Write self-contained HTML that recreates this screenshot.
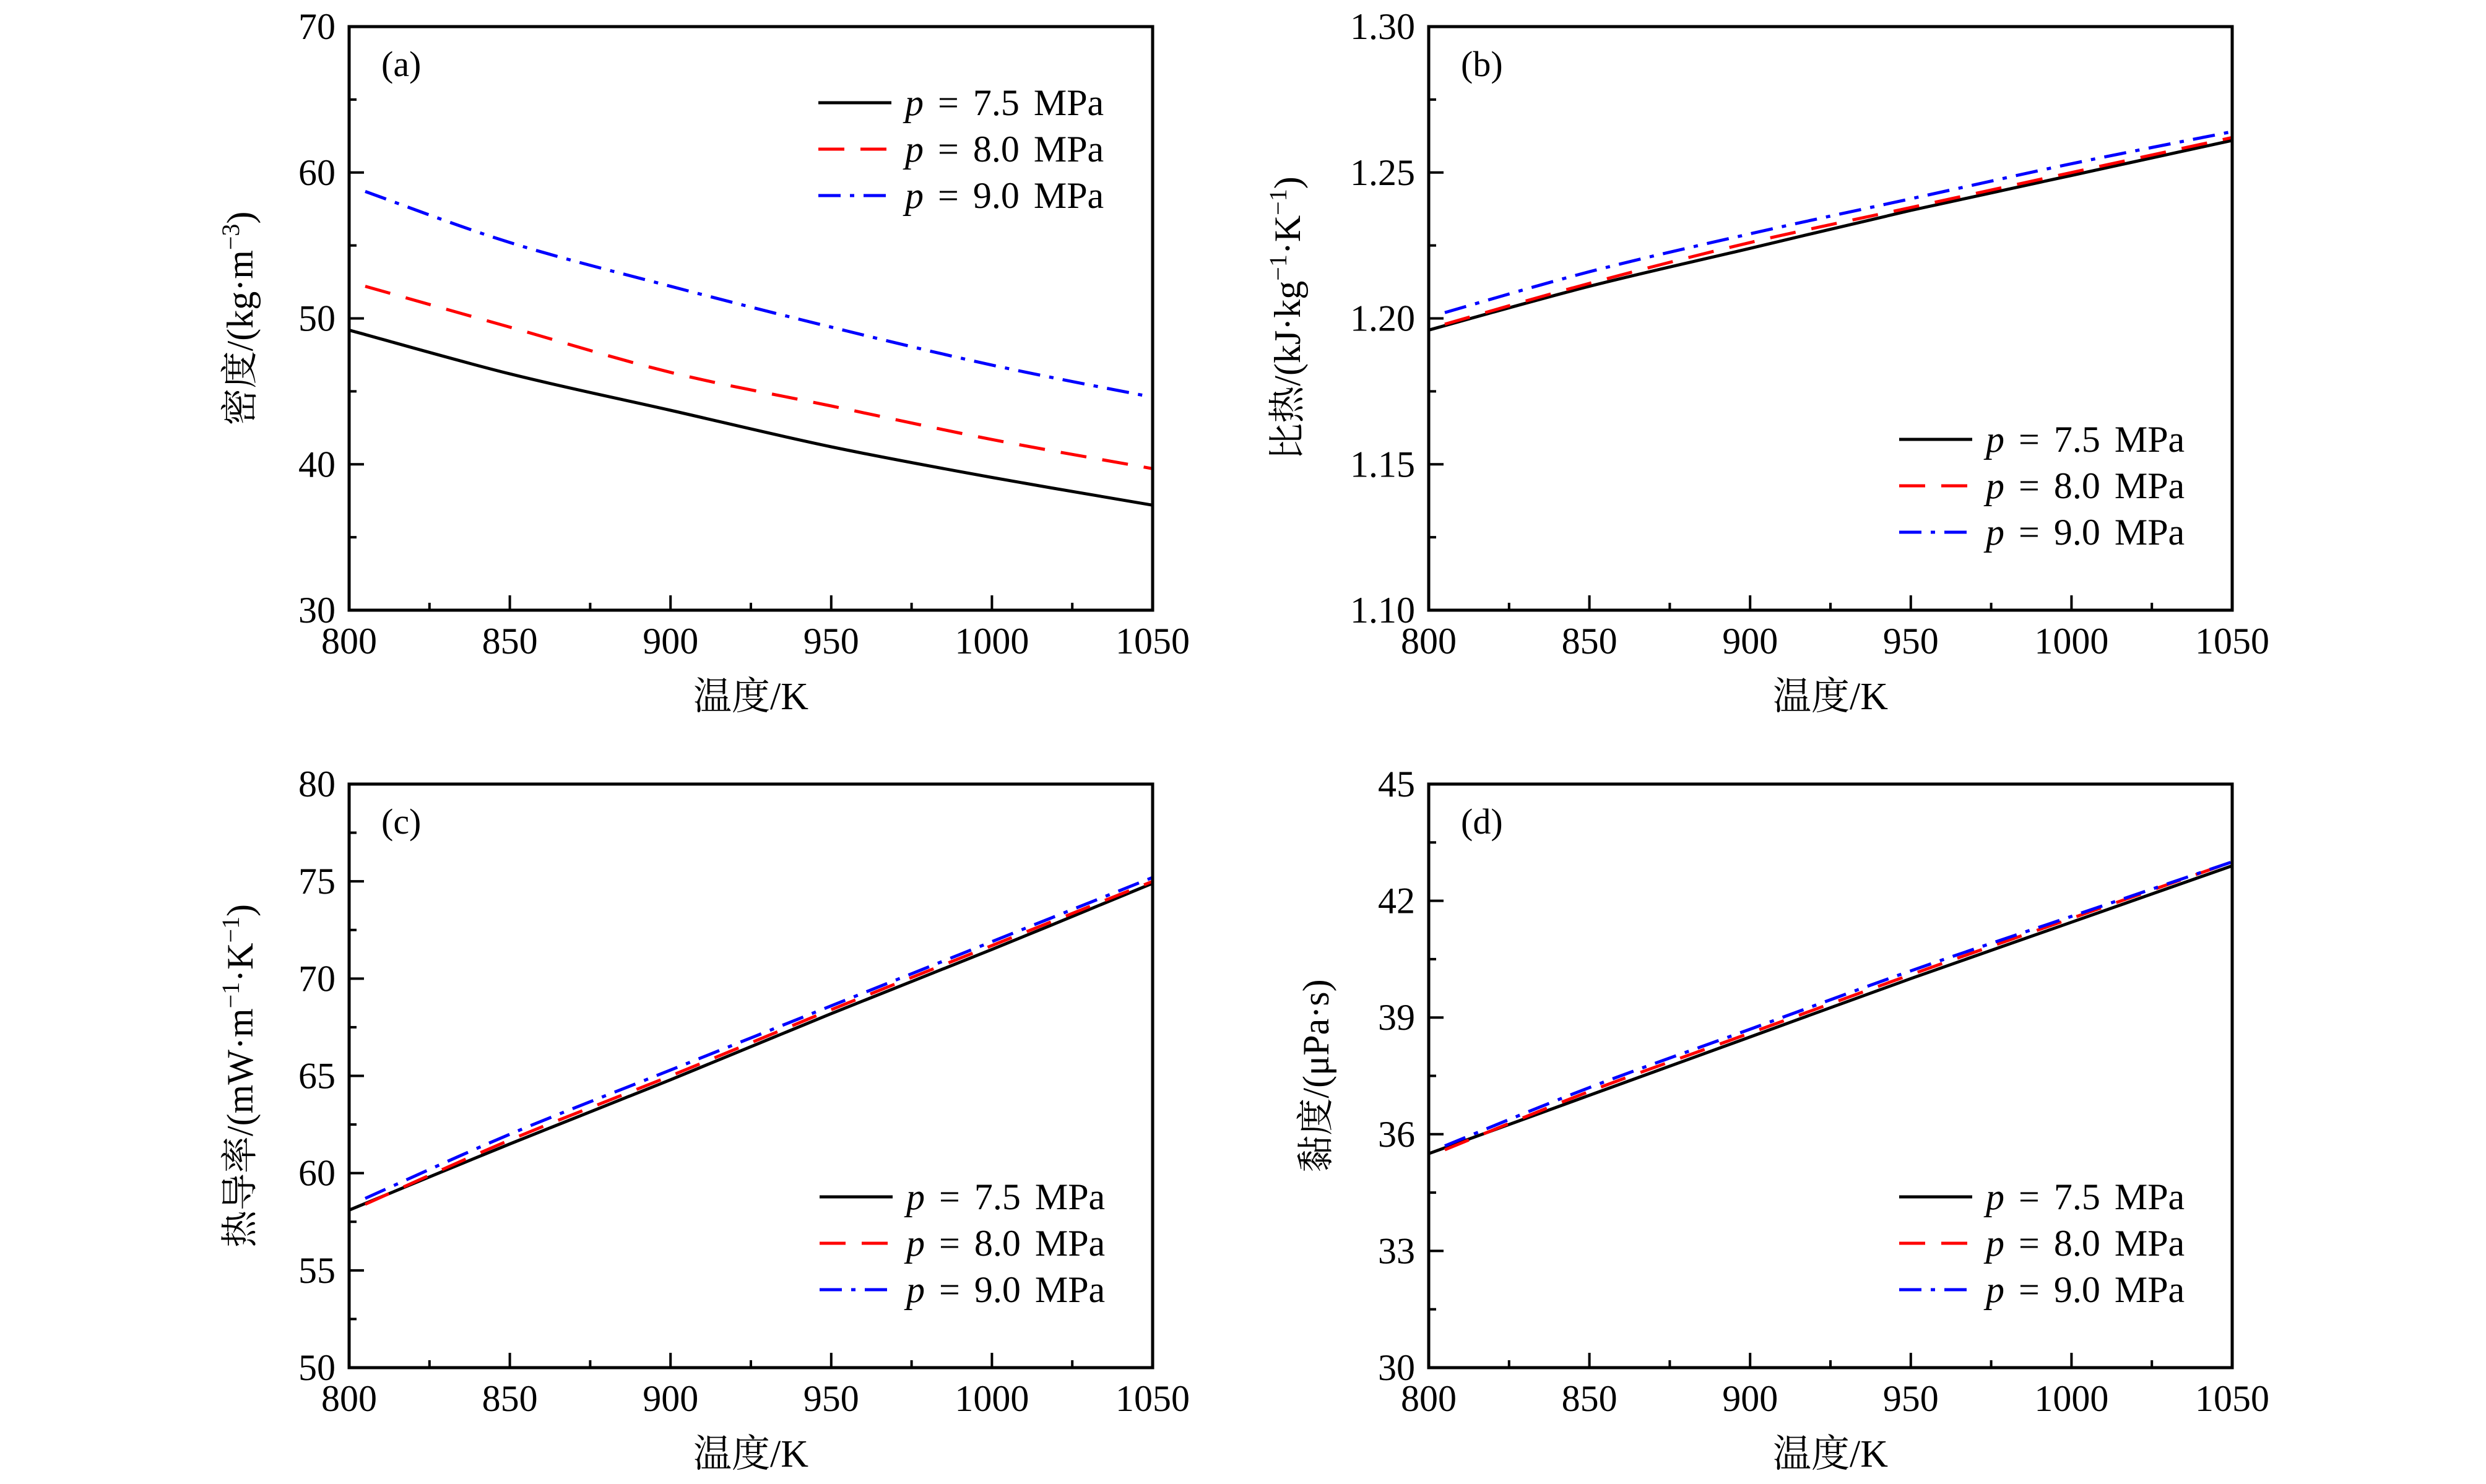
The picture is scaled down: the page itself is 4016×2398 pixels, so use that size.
<!DOCTYPE html>
<html><head><meta charset="utf-8"><style>
html,body{margin:0;padding:0;background:#fff;}
svg{display:block;font-family:"Liberation Serif","Noto Serif CJK SC","Noto Sans CJK SC",serif;}
</style></head><body>
<svg id="fig" width="4016" height="2398" viewBox="0 0 4016 2398" xmlns="http://www.w3.org/2000/svg"></svg>
<script>
const xCats = [800, 850, 900, 950, 1000, 1050];
const xCatsP = [805, 850, 900, 950, 1000, 1050];
const xTicks = [800, 850, 900, 950, 1000, 1050];
const seriesNames = ["7.5", "8.0", "9.0"];
const densBlack = [49.2, 46.2, 43.7, 41.2, 39.1, 37.2];
const densRed = [52.2, 49.4, 46.3, 44.0, 41.7, 39.7];
const densBlue = [58.7, 55.2, 52.2, 49.4, 46.8, 44.6];
const cpBlack = [1.196, 1.211, 1.224, 1.237, 1.249, 1.261];
const cpRed = [1.198, 1.212, 1.226, 1.238, 1.250, 1.262];
const cpBlue = [1.202, 1.216, 1.229, 1.241, 1.253, 1.264];
const kBlack = [58.1, 61.5, 64.8, 68.2, 71.5, 74.9];
const kRed = [58.4, 61.7, 65.0, 68.4, 71.7, 75.0];
const kBlue = [58.7, 62.0, 65.3, 68.6, 71.9, 75.2];
const muBlack = [35.5, 37.0, 38.5, 40.0, 41.45, 42.9];
const muRed = [35.6, 37.1, 38.6, 40.1, 41.55, 43.0];
const muBlue = [35.7, 37.2, 38.7, 40.2, 41.6, 43.0];
const densTicks = [30, 40, 50, 60, 70];
const cpTicks = ["1.10", "1.15", "1.20", "1.25", "1.30"];
const kTicks = [50, 55, 60, 65, 70, 75, 80];
const muTicks = [30, 33, 36, 39, 42, 45];

const NS = "http://www.w3.org/2000/svg";
const svg = document.getElementById('fig');
function mk(tag, attrs, parent) {
  const e = document.createElementNS(NS, tag);
  for (const k in attrs) e.setAttribute(k, attrs[k]);
  (parent || svg).appendChild(e);
  return e;
}
const styles = [
  {stroke: "#000", dash: ""},
  {stroke: "#f00", dash: "42 26"},
  {stroke: "#00f", dash: "36 15 7 15"}
];
function smoothPath(P) {
  let d = "M" + P[0][0].toFixed(1) + "," + P[0][1].toFixed(1);
  for (let i = 0; i < P.length - 1; i++) {
    const p0 = P[Math.max(0, i - 1)], p1 = P[i], p2 = P[i + 1], p3 = P[Math.min(P.length - 1, i + 2)];
    const c1 = [p1[0] + (p2[0] - p0[0]) / 6, p1[1] + (p2[1] - p0[1]) / 6];
    const c2 = [p2[0] - (p3[0] - p1[0]) / 6, p2[1] - (p3[1] - p1[1]) / 6];
    d += " C" + c1.map(v => v.toFixed(1)).join(",") + " " + c2.map(v => v.toFixed(1)).join(",") + " " + p2.map(v => v.toFixed(1)).join(",");
  }
  return d;
}
function panel(o) {
  const g = mk('g', {});
  
  
  const L = o.x0, R = o.x0 + 1298, T = o.y0, B = o.y0 + 943;
  const ymin = parseFloat(o.yt[0]), ymax = parseFloat(o.yt[o.yt.length - 1]);
  const sx = v => L + (v - 800) / 250 * (R - L);
  const sy = v => B - (v - ymin) / (ymax - ymin) * (B - T);
  const tg = mk('g', {stroke: "#000", "stroke-width": 4}, g);
  
  
  for (let i = 0; i < xTicks.length; i++) {
    const x = sx(xTicks[i]);
    mk('line', {x1: x, x2: x, y1: B, y2: B - 24}, tg);
    if (i < xTicks.length - 1) {
      const xm = sx((xTicks[i] + xTicks[i + 1]) / 2);
      mk('line', {x1: xm, x2: xm, y1: B, y2: B - 12}, tg);
    }
    const t = mk('text', {x: x, y: B + 70, "font-size": 60, "text-anchor": "middle"}, g);
    
    
    t.textContent = xTicks[i];
  }
  for (let i = 0; i < o.yt.length; i++) {
    const v = parseFloat(o.yt[i]);
    const y = sy(v);
    mk('line', {x1: L, x2: L + 24, y1: y, y2: y}, tg);
    if (i < o.yt.length - 1) {
      const ym = sy((v + parseFloat(o.yt[i + 1])) / 2);
      mk('line', {x1: L, x2: L + 12, y1: ym, y2: ym}, tg);
    }
    const t = mk('text', {x: L - 22, y: y + 20, "font-size": 60, "text-anchor": "end"}, g);
    
    
    t.textContent = o.yt[i];
  }
  o.series.forEach((s, k) => {
    const xs = k === 0 ? xCats : xCatsP;
    const P = s.map((v, i) => [sx(xs[i]), sy(v)]);
    const p = mk('path', {d: smoothPath(P), fill: "none", stroke: styles[k].stroke, "stroke-width": 5, "stroke-dasharray": styles[k].dash}, g);
    
    
  });
  const f = mk('rect', {x: L, y: T, width: R - L, height: B - T, fill: "none", stroke: "#000", "stroke-width": 5}, g);
  
  
  const pl = mk('text', {x: L + 52, y: T + 80, "font-size": 58}, g);
  
  
  pl.textContent = o.letter;
  const xt = mk('text', {x: (L + R) / 2, y: B + 160, "font-size": 62, "text-anchor": "middle"}, g);
  
  
  xt.textContent = "温度/K";
  const yt = mk('text', {x: 0, y: 0, "font-size": 60, "text-anchor": "middle", transform: `translate(${o.ylx},${(T + B) / 2}) rotate(-90)`}, g);
  
  
  yt.innerHTML = o.ylab;
  const lg = mk('g', {}, g);
  
  
  for (let k = 0; k < 3; k++) {
    const y = o.ly + k * 75;
    const ln = mk('line', {x1: o.lx, x2: o.lx + 118, y1: y, y2: y, stroke: styles[k].stroke, "stroke-width": 5, "stroke-dasharray": styles[k].dash}, lg);
    
    
    const t = mk('text', {x: o.lx + 140, y: y + 20, "font-size": 60, "word-spacing": "8", "xml:space": "preserve"}, lg);
    
    
    t.innerHTML = '<tspan font-style="italic">p</tspan> = ' + seriesNames[k] + '  MPa';
  }
}
panel({name: "panel-a-density", x0: 564, y0: 43, yt: densTicks, series: [densBlack, densRed, densBlue], letter: "(a)", ylx: 408,
  ylab: '密度/(kg·m<tspan dy="-22" font-size="40">−3</tspan><tspan dy="22">)</tspan>', lx: 1322, ly: 166});
panel({name: "panel-b-specific-heat", x0: 2308, y0: 43, yt: cpTicks, series: [cpBlack, cpRed, cpBlue], letter: "(b)", ylx: 2100,
  ylab: '比热/(kJ·kg<tspan dy="-22" font-size="40">−1</tspan><tspan dy="22">·K</tspan><tspan dy="-22" font-size="40">−1</tspan><tspan dy="22">)</tspan>', lx: 3068, ly: 710});
panel({name: "panel-c-conductivity", x0: 564, y0: 1267, yt: kTicks, series: [kBlack, kRed, kBlue], letter: "(c)", ylx: 408,
  ylab: '热导率/(mW·m<tspan dy="-22" font-size="40">−1</tspan><tspan dy="22">·K</tspan><tspan dy="-22" font-size="40">−1</tspan><tspan dy="22">)</tspan>', lx: 3068 - 1744, ly: 1934});
panel({name: "panel-d-viscosity", x0: 2308, y0: 1267, yt: muTicks, series: [muBlack, muRed, muBlue], letter: "(d)", ylx: 2146,
  ylab: '黏度/(μPa·s)', lx: 3068, ly: 1934});
</script>
</body></html>
